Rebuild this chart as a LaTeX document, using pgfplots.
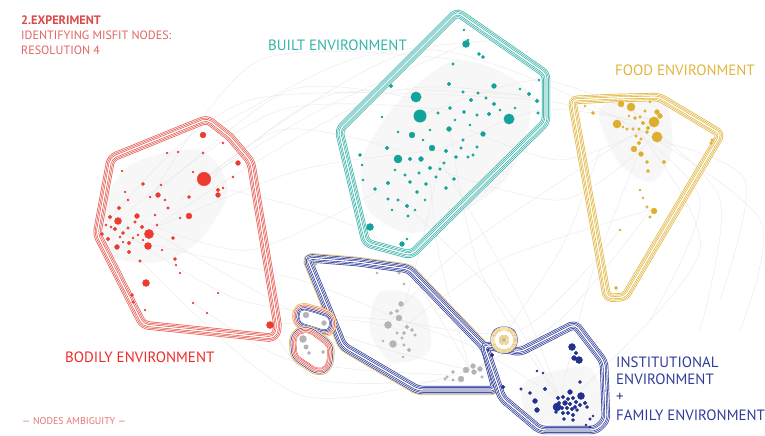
\documentclass[border=0pt]{standalone}
\usepackage{fontspec}
\setmainfont{PT Sans}
\newfontfamily\lab{PT Sans}
\usepackage{pgfplots}
\usepackage{pgfplotstable}
\pgfplotsset{compat=1.18}
\definecolor{redH}{HTML}{E8584F}
\definecolor{redN}{HTML}{EE3B30}
\definecolor{redT}{HTML}{F02828}
\definecolor{redTop}{HTML}{DC4848}
\definecolor{tealc}{HTML}{35B2A8}
\definecolor{tealN}{HTML}{12A39A}
\definecolor{yelc}{HTML}{E2B43B}
\definecolor{yelN}{HTML}{DFAE2E}
\definecolor{bluec}{HTML}{2E3B98}
\definecolor{blueN}{HTML}{22308F}
\definecolor{grayN}{HTML}{B4B4B4}
\definecolor{edgec}{HTML}{E8E8E8}
\definecolor{hazec}{HTML}{F7F7F7}

% hull centre lines
\pgfplotstableread{
x y
230 137
251 162
278 328
274 338
143 325
97 234
111 158
207 119
230 137
}\redhull
\pgfplotstableread{
x y
500 42
546 74
546 122
411 255
366 243
339 130
457 12
500 42
}\tealhull
\pgfplotstableread{
x y
615 98
659 97
721 134
625 297
607 298
572 100
615 98
}\yelhull
\pgfplotstableread{
x y
357 262
409 269
485 348
496 390
418 390
343 346
307 258
357 262
}\grayhull
\pgfplotstableread{
x y
500 348
520 352
575 324
604 362
606 420
596 430
540 430
502 398
484 345
500 348
}\insthull
% small hulls: inner boundaries
\pgfplotstableread{
x y
315 313
330 318
328 331
299 322
300 309
315 313
}\smallA
\pgfplotstableread{
x y
301 334
308 332
328 347
326 366
318 369
297 355
296 337
301 334
}\smallB
\pgfplotstableread{
x y
504 333
511 333
511 347
497 347
497 333
504 333
}\smallC

% nodes: x y radius
\pgfplotstableread{
x y r
203 135 2.5
238 163 2
204 179 6
218 190 1.5
218 195 2
158 195 2
143 184 1.2
189 197 1.2
189 216 2.5
118 221 3
137 216 2
110 217 1.5
119 208 1.5
149 234 4
148 246 3
117 247 2
108 239 1.5
102 234 1.2
115 229 1.5
129 243 1.5
129 252 1.5
142 227 1.5
123 233 1.2
140 261 1
173 238 1.2
175 259 1.2
168 208 1
146 283 3
132 295 1.2
133 302 1
270 325 3
223 143 0.8
203 153 0.8
161 185 0.8
122 171 0.7
167 153 0.7
178 152 0.7
193 172 0.7
233 177 0.8
223 188 0.8
125 192 0.7
128 200 0.8
150 197 0.7
111 227 0.8
120 237 0.8
123 242 0.7
133 238 0.8
138 235 0.8
143 240 0.7
157 225 0.8
162 250 0.7
176 265 0.7
180 273 0.7
218 293 0.7
207 313 0.7
145 310 0.7
193 303 0.7
135 222 1
128 228 1
155 215 0.8
165 200 0.8
180 218 0.7
106 225 0.8
}\rednodes
\pgfplotstableread{
x y r
466 44 3
464 30 0.8
468 40 0.8
479 54 1.2
483 57 1.2
453 64 1
391 86 1.5
449 84 1.5
494 86 2
416 97 4.5
420 116 5.5
509 119 4.5
478 93 1
486 98 1
471 100 1.5
494 104 1.5
529 94 1.5
537 101 1.5
538 113 1
539 80 0.8
520 89 0.8
463 92 1
450 108 1.2
464 112 1.2
438 113 1
477 115 1
489 114 1.5
412 135 2.5
449 129 2
483 134 2
432 148 2.5
446 151 1.5
387 148 1.5
398 159 3.5
360 155 1.2
410 159 1.5
421 159 2
430 168 1.5
444 163 1
456 157 1.2
468 157 1
473 155 1
477 147 1
461 148 1
388 183 1.5
375 189 1.2
410 182 1.2
417 192 1.2
426 184 1.2
440 169 1
436 177 1
454 179 1.2
446 188 1.2
407 206 1.5
408 216 1
388 199 1
398 200 1
370 227 3
402 244 2
407 239 0.8
363 180 0.8
362 165 0.8
382 117 0.8
398 132 0.8
423 140 0.8
463 140 1
419 173 1
405 175 1
430 130 0.8
455 120 0.8
470 125 0.8
500 110 0.8
515 108 0.8
395 170 0.8
415 210 0.8
425 200 0.8
392 210 0.8
}\tealnodes
\pgfplotstableread{
x y r
621 104 2.5
631 107 3.5
657 112 2
660 116 2
654 122 4.5
617 124 3.5
657 137 4.5
634 149 2.5
641 154 2
593 113 1.2
645 111 1
640 117 1
635 118 1.2
643 123 1.5
648 128 1.5
633 129 1
627 129 1
639 129 1
647 132 1.2
636 136 1
641 139 1
639 143 1.5
623 127 0.8
647 162 1.2
664 162 1.5
648 171 1.2
654 211 2.5
647 207 1
650 217 1
712 140 1
711 143 1
616 288 1.2
620 230 0.8
640 190 0.8
643 198 0.8
585 106 0.8
650 102 0.8
629 116 0.8
}\yelnodes
\pgfplotstableread{
x y r
572 347 3
576 353 1.5
574 358 2
579 360 3
580 382 1.2
545 389 1.5
530 393 1.2
521 389 1
535 401 2
537 410 2
557 407 3.5
581 396 3
570 392 2
558 398 1.5
563 397 1.5
568 399 1.5
573 398 1.5
576 402 1.5
559 403 1.5
565 403 2
570 404 1.5
575 407 1.5
580 405 1.5
585 403 1.5
562 408 1.5
567 408 1.5
572 409 1.5
577 410 1.2
563 413 1.5
568 413 1.5
573 415 1.5
556 412 1.2
587 407 1.2
564 419 1.2
573 420 1.2
590 419 1
593 416 0.8
503 387 1.5
492 355 1.5
543 373 0.8
537 371 0.8
488 350 1
586 425 0.8
590 427 0.8
}\bluenodes
\pgfplotstableread{
x y r
401 304 2
397 311 1.2
391 313 1.2
399 318 2.5
388 325 3
407 327 1.5
412 330 1.2
404 333 1.2
415 335 1
397 333 1
402 338 1
393 344 3
409 350 1.5
404 345 1
383 341 0.8
404 284 0.8
403 357 0.8
466 370 2.5
473 366 2
480 369 2
474 372 2
461 379 2.5
453 372 1.2
447 377 1
445 379 1
482 377 1
453 380 1
315 264 1.5
377 273 0.8
399 273 1
306 315 2.5
324 323 2
303 339 3
306 347 1.8
309 353 1.2
323 352 1.2
504 340 1.2
}\graynodes

\newcommand{\lay}[3]{\addplot[#2, line width={#3*1bp}, line join=round, line cap=round, rounded corners=5bp] table {#1};}
\newcommand{\band}[2]{%
 \lay{#1}{#2}{8.4}\lay{#1}{white}{7.0}%
 \lay{#1}{#2}{5.6}\lay{#1}{white}{4.2}%
 \lay{#1}{#2}{2.8}\lay{#1}{white}{1.4}}
\newcommand{\wfill}[1]{\addplot[fill=white, draw=none, rounded corners=5bp] table {#1};}
\newcommand{\nodebin}[3]{\addplot[only marks, mark=*, mark size={#3*1.1+0.2}, color=#2, mark options={draw=none, fill=#2}]
  table[x=x, y expr={abs(\thisrow{r}-#3)<0.05 ? \thisrow{y} : nan}] {#1};}
\newcommand{\drawnodes}[2]{%
 \nodebin{#1}{#2}{0.7}\nodebin{#1}{#2}{0.8}\nodebin{#1}{#2}{1}\nodebin{#1}{#2}{1.2}%
 \nodebin{#1}{#2}{1.5}\nodebin{#1}{#2}{1.8}\nodebin{#1}{#2}{2}\nodebin{#1}{#2}{2.5}%
 \nodebin{#1}{#2}{3}\nodebin{#1}{#2}{3.5}\nodebin{#1}{#2}{4}\nodebin{#1}{#2}{4.5}%
 \nodebin{#1}{#2}{5.5}\nodebin{#1}{#2}{6}}
\newcommand{\edge}[3]{\addplot[edgec, line width=0.4bp, smooth] coordinates {#1 #2 #3};}

\begin{document}
\begin{tikzpicture}
\useasboundingbox (0,0) rectangle (765bp,436bp);
\begin{axis}[at={(0,0)}, anchor=south west, width=765bp, height=436bp, scale only axis,
  xmin=0, xmax=765, ymin=0, ymax=436, y dir=reverse, hide axis, clip=false,
  unbounded coords=discard]
% outer yellow line of the grey hull (outer side only)
\lay{\grayhull}{yelc}{10.4}\lay{\grayhull}{white}{9.2}
\wfill{\grayhull}
% haze
\addplot[fill=hazec, draw=none, smooth cycle] coordinates {(100,215) (130,165) (200,150) (228,190) (200,240) (160,262) (108,255)};
\addplot[fill=hazec, draw=none, smooth cycle] coordinates {(362,160) (400,100) (460,60) (530,95) (505,180) (420,232) (370,212)};
\addplot[fill=hazec, draw=none, smooth cycle] coordinates {(600,108) (662,100) (672,150) (652,182) (618,162)};
\addplot[fill=hazec, draw=none, smooth cycle] coordinates {(380,292) (420,300) (430,350) (392,362) (370,330)};
\addplot[fill=hazec, draw=none, smooth cycle] coordinates {(525,382) (590,368) (600,422) (532,420)};
% edges
\edge{(150,230)}{(300,170)}{(440,150)}
\edge{(204,179)}{(320,110)}{(466,44)}
\edge{(150,230)}{(400,90)}{(630,120)}
\edge{(204,179)}{(420,50)}{(640,130)}
\edge{(130,240)}{(300,280)}{(400,320)}
\edge{(150,230)}{(330,330)}{(470,370)}
\edge{(440,150)}{(540,110)}{(630,120)}
\edge{(420,116)}{(540,80)}{(654,122)}
\edge{(440,160)}{(420,250)}{(400,320)}
\edge{(450,130)}{(480,270)}{(560,400)}
\edge{(640,150)}{(590,280)}{(560,400)}
\edge{(650,211)}{(560,320)}{(470,370)}
\edge{(620,230)}{(520,330)}{(400,320)}
\edge{(270,325)}{(350,320)}{(400,330)}
\edge{(140,260)}{(300,395)}{(470,370)}
\edge{(203,135)}{(350,60)}{(500,40)}
\edge{(110,220)}{(250,100)}{(540,100)}
\edge{(630,120)}{(700,250)}{(580,390)}
\edge{(150,200)}{(260,60)}{(460,60)}
\edge{(120,230)}{(240,300)}{(390,320)}
\edge{(400,200)}{(500,300)}{(560,400)}
\edge{(410,160)}{(560,200)}{(650,140)}
\edge{(230,190)}{(380,240)}{(470,370)}
\edge{(388,325)}{(460,250)}{(640,130)}
\edge{(640,120)}{(720,200)}{(700,330)}
\edge{(600,150)}{(560,250)}{(480,370)}
\edge{(180,200)}{(280,130)}{(400,150)}
\edge{(140,220)}{(250,250)}{(380,190)}
\edge{(560,400)}{(520,300)}{(440,160)}
\edge{(645,130)}{(560,160)}{(470,130)}
\edge{(160,190)}{(290,90)}{(420,100)}
\edge{(130,210)}{(280,110)}{(450,110)}
\edge{(210,180)}{(330,95)}{(520,95)}
\edge{(655,140)}{(745,180)}{(720,300)}
\edge{(640,130)}{(760,220)}{(740,330)}
\edge{(620,120)}{(700,200)}{(650,320)}
\edge{(400,330)}{(500,260)}{(650,210)}
\edge{(400,320)}{(480,350)}{(560,400)}
\edge{(270,325)}{(320,380)}{(460,380)}
\edge{(190,300)}{(290,360)}{(450,375)}
\edge{(430,180)}{(440,260)}{(470,370)}
% hulls
\band{\redhull}{redH}
\band{\tealhull}{tealc}
\band{\yelhull}{yelc}
\band{\grayhull}{bluec}
\band{\insthull}{bluec}
% small hulls (rings outward of the inner boundary)
\lay{\smallA}{yelc}{14.4}\lay{\smallA}{white}{13}
\lay{\smallA}{redH}{11.6}\lay{\smallA}{white}{10.2}
\lay{\smallA}{redH}{8.8}\lay{\smallA}{white}{7.4}
\lay{\smallA}{bluec}{6}\lay{\smallA}{white}{4.6}
\lay{\smallA}{bluec}{3.2}\lay{\smallA}{white}{1.8}
\lay{\smallA}{bluec}{1}
\wfill{\smallA}
\lay{\smallB}{yelc}{14.4}\lay{\smallB}{white}{13}
\lay{\smallB}{bluec}{11.6}\lay{\smallB}{white}{10.2}
\lay{\smallB}{redH}{8.8}\lay{\smallB}{white}{7.4}
\lay{\smallB}{redH}{6}\lay{\smallB}{white}{4.6}
\lay{\smallB}{redH}{3.2}\lay{\smallB}{white}{1.8}
\lay{\smallB}{redH}{1}
\wfill{\smallB}
\lay{\smallC}{bluec}{13}\lay{\smallC}{white}{12}
\lay{\smallC}{yelc}{11}\lay{\smallC}{white}{10}
\lay{\smallC}{yelc}{9}\lay{\smallC}{white}{8}
\lay{\smallC}{yelc}{7}\lay{\smallC}{white}{6}
\lay{\smallC}{yelc}{5}\lay{\smallC}{white}{4}
% nodes
\drawnodes{\rednodes}{redN}
\drawnodes{\tealnodes}{tealN}
\drawnodes{\yelnodes}{yelN}
\drawnodes{\bluenodes}{blueN}
\drawnodes{\graynodes}{grayN}
% texts
\node[anchor=base west, inner sep=0, text=redTop, font=\lab\bfseries\fontsize{12.3}{14}\selectfont] at (axis cs:21,25) {2.EXPERIMENT};
\node[anchor=base west, inner sep=0, text=redTop!85, font=\lab\fontsize{12.1}{14}\selectfont] at (axis cs:21,40) {IDENTIFYING MISFIT NODES:};
\node[anchor=base west, inner sep=0, text=redTop!85, font=\lab\fontsize{12.1}{14}\selectfont] at (axis cs:21,55) {RESOLUTION 4};
\node[anchor=base west, inner sep=0, text=tealc, font=\lab\fontsize{15}{17}\selectfont] at (axis cs:268,51) {BUILT ENVIRONMENT};
\node[anchor=base west, inner sep=0, text=yelc, font=\lab\fontsize{15}{17}\selectfont] at (axis cs:615,76) {FOOD ENVIRONMENT};
\node[anchor=base west, inner sep=0, text=redT, font=\lab\fontsize{15}{17}\selectfont] at (axis cs:65,362) {BODILY ENVIRONMENT};
\node[anchor=base west, inner sep=0, text=bluec, font=\lab\fontsize{15}{17}\selectfont] at (axis cs:616,367) {INSTITUTIONAL};
\node[anchor=base west, inner sep=0, text=bluec, font=\lab\fontsize{15}{17}\selectfont] at (axis cs:616,384) {ENVIRONMENT};
\node[anchor=base west, inner sep=0, text=bluec, font=\lab\fontsize{15}{17}\selectfont] at (axis cs:616,401) {+};
\node[anchor=base west, inner sep=0, text=bluec, font=\lab\fontsize{15}{17}\selectfont] at (axis cs:616,420) {FAMILY ENVIRONMENT};
\node[anchor=base west, inner sep=0, text=redTop!75, font=\lab\fontsize{10}{11}\selectfont] at (axis cs:22,424) {— NODES AMBIGUITY —};
\end{axis}
\end{tikzpicture}
\end{document}
